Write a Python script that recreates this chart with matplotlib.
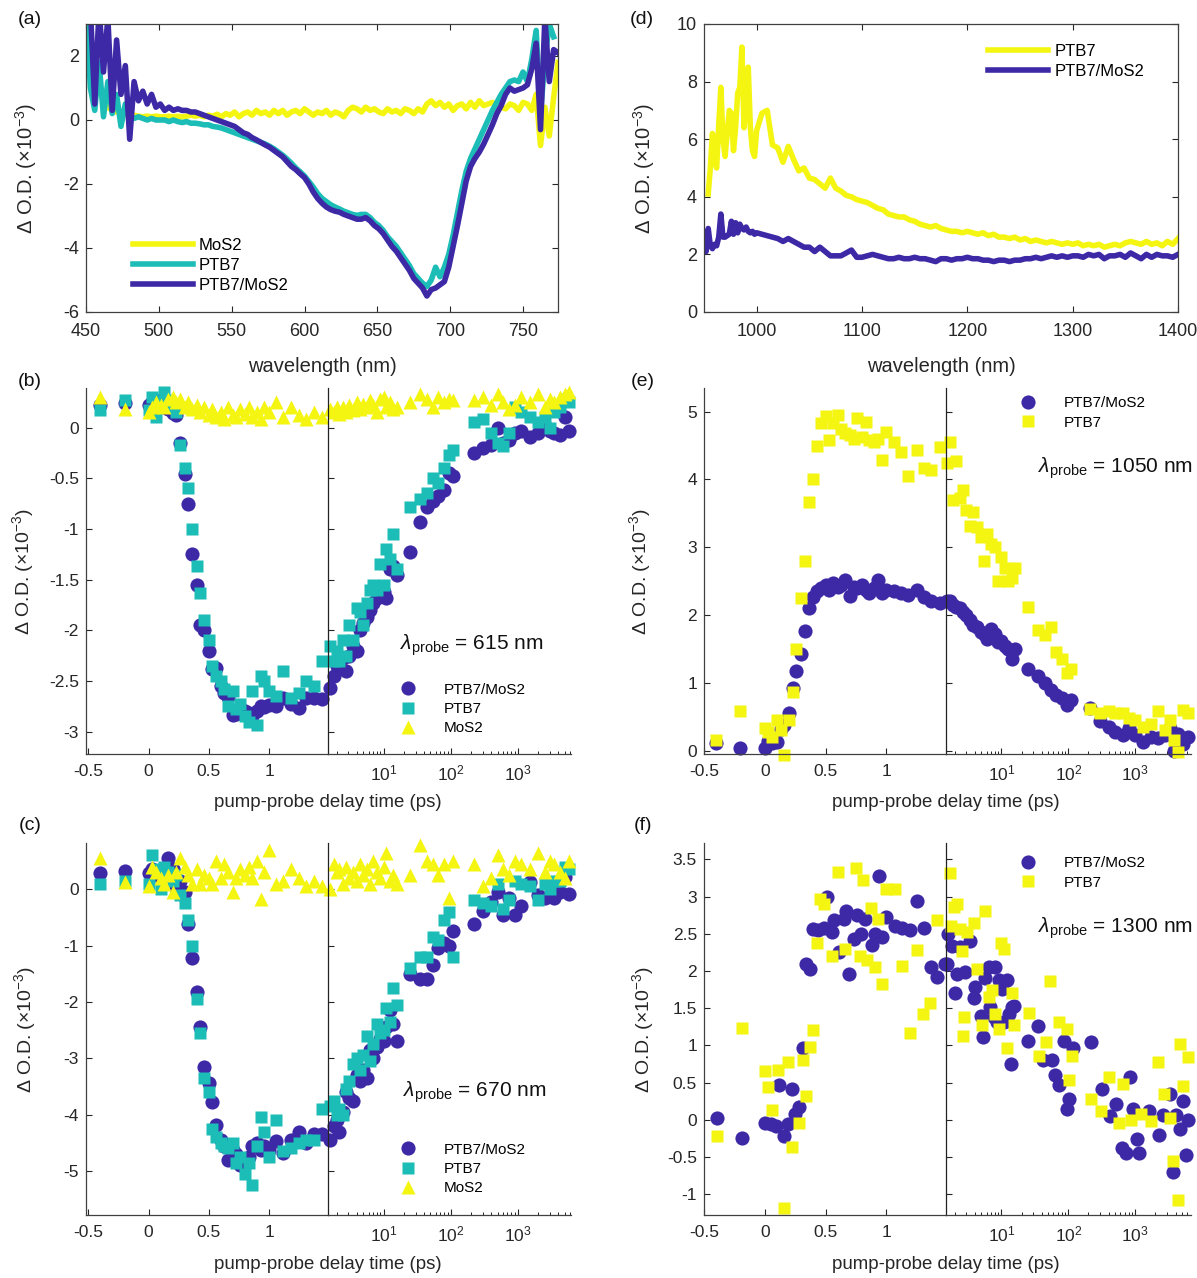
import numpy as np
import matplotlib
matplotlib.use("Agg")
import matplotlib.pyplot as plt
from matplotlib.ticker import LogLocator, NullFormatter

# ---- (a) visible spectra, wavelength grid every 3 nm ----
vis_wl = np.arange(450, 775, 3)
vis_mos2 = [3.5, 2.2, 1.5, 1.0, 0.6, 0.4, 0.3, 0.25, 0.2, 0.2,
            0.15, 0.15, 0.12, 0.1, 0.12, 0.1, 0.12, 0.1, 0.1, 0.12,
            0.1, 0.12, 0.1, 0.12, 0.15, 0.12, 0.15, 0.1, 0.15, 0.12,
            0.18, 0.1, 0.2, 0.15, 0.25, 0.1, 0.2, 0.25, 0.15, 0.3,
            0.2, 0.25, 0.15, 0.3, 0.2, 0.3, 0.15, 0.25, 0.3, 0.2,
            0.35, 0.25, 0.15, 0.25, 0.2, 0.3, 0.15, 0.25, 0.2, 0.1,
            0.3, 0.4, 0.35, 0.25, 0.4, 0.3, 0.35, 0.25, 0.2, 0.35,
            0.25, 0.3, 0.2, 0.35, 0.3, 0.2, 0.35, 0.25, 0.5, 0.6,
            0.45, 0.55, 0.4, 0.5, 0.3, 0.45, 0.5, 0.35, 0.55, 0.4,
            0.6, 0.45, 0.5, 0.55, 0.45, 0.4, 0.35, 0.5, 0.45, 0.3,
            0.55, 0.5, 0.3, 0.8, -0.8, 0.4, -0.5, 0.7, 1.8]
vis_ptb7 = [3.5, 1.0, 0.3, 1.8, 0.1, 1.2, 0.2, 0.8, -0.2, 0.5,
            0.1, 0.05, 0.1, 0.05, 0.0, 0.05, 0.0, 0.0, 0.0, -0.05,
            0.0, -0.05, -0.08, -0.05, -0.1, -0.1, -0.12, -0.15, -0.15, -0.2,
            -0.22, -0.25, -0.3, -0.35, -0.4, -0.45, -0.5, -0.55, -0.6, -0.65,
            -0.7, -0.75, -0.82, -0.9, -1.0, -1.1, -1.22, -1.35, -1.5, -1.62,
            -1.75, -1.92, -2.1, -2.3, -2.45, -2.55, -2.65, -2.72, -2.78, -2.85,
            -2.9, -2.95, -2.98, -2.95, -2.95, -3.05, -3.2, -3.3, -3.45, -3.65,
            -3.8, -3.95, -4.15, -4.35, -4.55, -4.8, -4.95, -5.1, -5.2, -5.0,
            -4.6, -4.9, -4.6, -4.2, -3.6, -2.9, -2.2, -1.6, -1.2, -0.9,
            -0.6, -0.3, 0.0, 0.3, 0.55, 0.8, 1.0, 1.2, 1.25, 1.2,
            1.5, 1.2, 1.9, 2.8, 0.2, 1.9, 3.0, 2.6, np.nan]
vis_mix = [np.nan, 3.5, 0.5, 3.5, 1.5, 3.2, 0.3, 2.5, 0.8, 1.7,
           -0.6, 1.2, 0.6, 0.9, 0.5, 0.8, 0.4, 0.5, 0.3, 0.4,
           0.3, 0.35, 0.3, 0.3, 0.25, 0.25, 0.2, 0.15, 0.1, 0.05,
           0.0, -0.05, -0.1, -0.15, -0.2, -0.3, -0.4, -0.45, -0.55, -0.62,
           -0.7, -0.78, -0.85, -0.95, -1.05, -1.15, -1.3, -1.45, -1.55, -1.68,
           -1.8, -2.0, -2.25, -2.45, -2.6, -2.72, -2.8, -2.85, -2.88, -2.95,
           -3.0, -3.05, -3.1, -3.1, -3.05, -3.15, -3.3, -3.4, -3.55, -3.75,
           -3.95, -4.1, -4.3, -4.5, -4.7, -4.95, -5.1, -5.25, -5.5, -5.3,
           -5.25, -5.15, -5.05, -4.6, -3.95, -3.3, -2.6, -1.9, -1.45, -1.2,
           -1.0, -0.75, -0.45, -0.15, 0.2, 0.45, 0.8, 1.0, 0.9, 0.95,
           1.0, 1.1, 1.6, 2.4, -0.3, 3.2, 1.2, 2.2, 2.1]

# ---- (d) near-IR spectra ----
nir_wl = np.concatenate([np.arange(950, 1001, 2), np.arange(1005, 1401, 5)])
nir_ptb7 = [np.nan, np.nan, 4.1, 5.0, 6.2, 5.3, 5.0, 6.5, 7.8, 6.0,
            5.4, 6.2, 7.0, 6.9, 5.6, 6.4, 7.6, 7.8, 9.2, 6.4,
            7.2, 8.5, 6.4, 5.6, 5.4, 6.3,
            6.9, 7.0, 5.8, 5.7, 5.2, 5.75, 5.3, 4.9, 5.0, 4.65,
            4.6, 4.45, 4.3, 4.65, 4.3, 4.2, 4.05, 4.0, 3.9, 3.85,
            3.8, 3.7, 3.6, 3.55, 3.4, 3.35, 3.3, 3.3, 3.2, 3.15,
            3.05, 3.0, 2.95, 3.0, 2.9, 2.85, 2.8, 2.8, 2.75, 2.8,
            2.75, 2.7, 2.75, 2.65, 2.7, 2.6, 2.6, 2.55, 2.6, 2.5,
            2.55, 2.45, 2.5, 2.45, 2.4, 2.45, 2.4, 2.35, 2.4, 2.35,
            2.4, 2.3, 2.35, 2.3, 2.35, 2.25, 2.3, 2.35, 2.3, 2.4,
            2.45, 2.4, 2.35, 2.45, 2.35, 2.4, 2.3, 2.45, 2.35, 2.55]
nir_mix = [2.3, 2.1, 2.9, 2.3, 2.2, 2.35, 2.3, 2.6, 3.4, 2.6,
           2.6, 2.65, 2.7, 3.15, 2.7, 3.1, 2.75, 3.05, 2.9, 2.85,
           2.95, 2.8, 2.75, 2.8, 2.7, 2.75,
           2.7, 2.65, 2.6, 2.55, 2.45, 2.55, 2.45, 2.35, 2.25, 2.25,
           2.1, 2.25, 2.1, 1.95, 1.95, 1.95, 2.05, 2.15, 1.9, 1.9,
           1.95, 2.0, 1.95, 1.9, 1.85, 1.85, 1.9, 1.85, 1.85, 1.9,
           1.85, 1.85, 1.8, 1.75, 1.85, 1.85, 1.8, 1.85, 1.85, 1.9,
           1.85, 1.85, 1.8, 1.8, 1.75, 1.8, 1.8, 1.75, 1.8, 1.8,
           1.85, 1.85, 1.9, 1.85, 1.9, 1.95, 1.9, 1.95, 1.9, 1.95,
           1.95, 1.9, 2.0, 1.95, 2.0, 1.85, 1.95, 1.95, 2.0, 1.9,
           2.05, 1.95, 1.85, 2.0, 1.9, 2.0, 1.95, 1.95, 1.9, 2.0]

# ---- delay grids (ps) ----
delay_lin = [-0.4, -0.2, 0.0, 0.03, 0.06, 0.1, 0.13, 0.16, 0.2, 0.23,
             0.26, 0.3, 0.33, 0.36, 0.4, 0.43, 0.46, 0.5, 0.53, 0.56,
             0.6, 0.63, 0.66, 0.7, 0.73, 0.76, 0.8, 0.83, 0.86, 0.9,
             0.93, 0.96, 1.0, 1.06, 1.12, 1.18, 1.25, 1.31, 1.37, 1.44]
delay_vis_log = [1.6, 1.8, 2.0, 2.2, 2.5, 2.8, 3.1, 3.5, 4, 4.5,
                 5, 5.6, 6.3, 7, 8, 9, 10, 11, 12.5, 14,
                 16, 25, 35, 45, 55, 65, 80, 95, 110, 220,
                 300, 400, 500, 600, 750, 900, 1100, 1500, 2000, 2500,
                 3000, 3500, 4200, 5000, 5800]
delay_nir_log = [1.55, 1.7, 1.9, 2.1, 2.4, 2.7, 3.0, 3.4, 3.8, 4.3,
                 4.9, 5.5, 6.2, 7.0, 7.9, 8.9, 10, 11.2, 12.6, 14.2,
                 16, 25, 35, 45, 55, 65, 80, 95, 110, 210,
                 300, 400, 500, 650, 800, 1000, 1300, 1700, 2200, 2800,
                 3300, 3800, 4400, 5200, 6100]

# ---- (b) 615 nm ----
b_mix = [0.22, 0.24, 0.22, 0.25, 0.22, 0.27, 0.2, 0.18, 0.14, 0.12,
         -0.15, -0.46, -0.75, -1.25, -1.55, -1.95, -2.0, -2.2, -2.38, -2.37,
         -2.55, -2.62, -2.66, -2.84, -2.83, -2.77, -2.8, -2.82, -2.85, -2.8,
         -2.75, -2.76, -2.74, -2.75, -2.67, -2.73, -2.77, -2.67, -2.67, -2.68,
         -2.57, -2.45, -2.35, -2.3, -2.27, -2.4, -2.25, -2.15, -2.2, -2.0,
         -1.93, -1.87, -1.8, -1.73, -1.68, -1.65, -1.62, -1.68, -1.4, -1.37,
         -1.45, -1.23, -0.93, -0.78, -0.72, -0.68, -0.62, -0.45, -0.48, -0.25,
         -0.2, -0.17, 0.0, -0.15, -0.12, -0.05, -0.03, -0.09, -0.05, 0.02,
         -0.03, -0.05, -0.07, 0.1, -0.03]
b_ptb7 = [0.17, 0.27, 0.17, 0.3, 0.1, 0.25, 0.35, 0.27, 0.2, 0.15,
          -0.17, -0.4, -0.6, -1.0, -1.37, -1.63, -1.9, -2.1, -2.35, -2.45,
          -2.5, -2.58, -2.75, -2.6, -2.78, -2.73, -2.85, -2.9, -2.6, -2.93,
          -2.45, -2.5, -2.6, -2.65, -2.4, -2.67, -2.62, -2.5, -2.55, -2.3,
          -2.15, -2.3, -2.2, -2.3, -2.1, -2.25, -1.95, -2.1, -1.78, -1.82,
          -1.95, -1.73, -1.6, -1.55, -1.6, -1.35, -1.55, -1.2, -1.3, -1.05,
          -1.4, -0.78, -0.7, -0.65, -0.5, -0.55, -0.4, -0.27, -0.22, 0.05,
          0.08, -0.05, -0.15, -0.18, -0.05, 0.2, 0.15, 0.1, 0.05, 0.1,
          0.0, 0.15, 0.2, 0.28, 0.25]
b_mos2 = [0.3, 0.18, 0.15, 0.2, 0.25, 0.22, 0.2, 0.28, 0.3, 0.25,
          0.28, 0.2, 0.25, 0.18, 0.22, 0.15, 0.2, 0.12, 0.18, 0.1,
          0.15, 0.08, 0.2, 0.12, 0.1, 0.18, 0.13, 0.2, 0.1, 0.15,
          0.08, 0.2, 0.15, 0.25, 0.1, 0.2, 0.12, 0.08, 0.15, 0.1,
          0.18, 0.15, 0.2, 0.13, 0.2, 0.15, 0.22, 0.17, 0.25, 0.18,
          0.23, 0.2, 0.27, 0.22, 0.15, 0.28, 0.3, 0.2, 0.25, 0.18,
          0.2, 0.25, 0.33, 0.28, 0.2, 0.3, 0.25, 0.28, 0.27, 0.27,
          0.3, 0.22, 0.33, 0.25, 0.18, 0.22, 0.3, 0.25, 0.33, 0.2,
          0.28, 0.25, 0.3, 0.33, 0.35]

# ---- (c) 670 nm ----
c_mix = [0.28, 0.32, 0.28, 0.35, 0.3, 0.2, 0.25, 0.55, 0.35, 0.02,
         0.15, -0.05, -0.62, -1.22, -1.82, -2.45, -3.15, -3.43, -3.78, -4.18,
         -4.45, -4.55, -4.8, -4.62, -4.7, -4.9, -4.85, -4.75, -4.55, -4.5,
         -4.62, -4.55, -4.62, -4.47, -4.68, -4.45, -4.3, -4.5, -4.35, -4.35,
         -4.45, -4.2, -4.1, -4.3, -3.95, -3.6, -3.7, -3.75, -3.3, -3.4,
         -3.2, -3.35, -2.85, -3.0, -2.8, -2.65, -2.7, -2.45, -2.15, -2.4,
         -2.7, -1.5, -1.6, -1.6, -1.35, -1.05, -0.95, -1.0, -0.75, -0.62,
         -0.38, -0.22, -0.05, -0.45, -0.15, -0.45, -0.3, 0.12, -0.1, -0.15,
         -0.12, -0.15, -0.05, 0.22, -0.08]
c_ptb7 = [0.1, 0.15, 0.1, 0.6, 0.35, 0.0, 0.4, 0.3, 0.15, 0.25,
          -0.1, -0.25, -0.55, -1.0, -1.95, -2.55, -3.35, -3.6, -4.25, -4.4,
          -4.5, -4.55, -4.6, -4.5, -4.85, -4.75, -5.05, -4.85, -5.25, -4.55,
          -4.05, -4.3, -4.75, -4.1, -4.65, -4.6, -4.5, -4.45, -4.45, -3.9,
          -3.85, -3.75, -4.0, -3.9, -4.0, -3.55, -3.4, -3.1, -3.0, -3.2,
          -2.95, -2.6, -3.05, -2.75, -2.4, -2.55, -2.5, -2.1, -2.35, -1.75,
          -2.05, -1.4, -1.2, -1.2, -0.85, -0.9, -0.55, -0.4, -1.2, -0.2,
          -0.25, -0.3, 0.1, -0.35, -0.2, 0.15, 0.1, 0.05, -0.2, 0.1,
          0.0, 0.15, 0.15, 0.4, 0.35]
c_mos2 = [0.55, 0.12, 0.05, 0.4, 0.3, 0.2, 0.1, 0.25, -0.05, 0.3,
          0.55, 0.4, 0.25, 0.1, 0.35, 0.1, 0.25, 0.2, 0.1, 0.5,
          0.2, 0.45, 0.3, -0.05, 0.2, 0.35, 0.25, 0.4, 0.2, 0.5,
          -0.17, 0.3, 0.7, 0.1, 0.15, 0.35, 0.2, 0.05, 0.15, 0.05,
          0.0, 0.45, 0.3, 0.35, 0.1, 0.4, 0.2, 0.3, 0.15, 0.45,
          0.25, 0.35, 0.1, 0.5, 0.3, 0.2, 0.4, 0.65, 0.15, 0.25,
          0.1, 0.25, 0.78, 0.5, 0.45, 0.25, 0.45, -0.15, 0.5, 0.45,
          0.05, 0.2, 0.6, 0.35, 0.25, 0.5, 0.45, 0.35, 0.65, 0.3,
          0.5, 0.45, 0.3, 0.2, 0.5]

# ---- (e) 1050 nm ----
e_mix = [0.11, 0.04, 0.04, 0.14, 0.11, 0.13, 0.32, 0.38, 0.56, 0.92,
         1.18, 1.43, 1.77, 2.1, 2.27, 2.35, 2.4, 2.45, 2.37, 2.48,
         2.42, 2.45, 2.52, 2.28, 2.42, 2.4, 2.45, 2.37, 2.32, 2.4,
         2.52, 2.32, 2.37, 2.35, 2.32, 2.3, 2.37, 2.27, 2.2, 2.18,
         2.2, 2.2, 2.15, 2.12, 2.1, 2.05, 2.0, 1.93, 1.85, 1.82,
         1.75, 1.72, 1.65, 1.8, 1.72, 1.6, 1.62, 1.55, 1.5, 1.35,
         1.5, 1.2, 1.1, 1.0, 0.9, 0.82, 0.78, 0.68, 0.75, 0.63,
         0.43, 0.35, 0.28, 0.23, 0.33, 0.23, 0.13, 0.2, 0.18, 0.23,
         0.33, 0.0, 0.25, 0.1, 0.2]
e_ptb7 = [0.16, 0.59, 0.33, 0.28, 0.2, 0.45, 0.3, -0.06, 0.45, 0.86,
          1.5, 2.25, 2.8, 3.67, 4.0, 4.5, 4.83, 4.93, 4.58, 4.83,
          4.95, 4.75, 4.68, 4.66, 4.6, 4.9, 4.62, 4.85, 4.58, 4.56,
          4.6, 4.29, 4.7, 4.56, 4.4, 4.05, 4.44, 4.17, 4.14, 4.48,
          4.25, 4.55, 3.7, 4.27, 3.72, 3.85, 3.55, 3.32, 3.52, 3.3,
          3.15, 2.8, 3.2, 3.05, 3.0, 2.5, 2.85, 2.7, 2.5, 2.55,
          2.7, 2.12, 1.78, 1.7, 1.82, 1.45, 1.35, 1.15, 1.2, 0.62,
          0.55, 0.58, 0.55, 0.55, 0.48, 0.45, 0.35, 0.4, 0.58, 0.3,
          0.45, 0.15, -0.02, 0.6, 0.55]

# ---- (f) 1300 nm (own delay points) ----
f_t_mix = [-0.39, -0.19, 0.0, 0.05, 0.09, 0.12, 0.16, 0.19, 0.22, 0.25,
           0.28, 0.31, 0.34, 0.37, 0.4, 0.44, 0.49, 0.51, 0.55, 0.57,
           0.61, 0.65, 0.67, 0.69, 0.73, 0.76, 0.79, 0.82, 0.88, 0.91,
           0.94, 0.96, 1.0, 1.07, 1.13, 1.19, 1.25, 1.31, 1.37, 1.42, 1.48,
           1.53, 1.62, 1.82, 2.0, 2.16, 2.42, 2.88, 3.4, 3.9, 4.1,
           5.0, 5.4, 5.75, 6.45, 6.8, 7.7, 8.1, 8.6, 9.1, 10.2,
           10.8, 12.2, 12.9, 14, 14.5, 15.3, 25, 35.5, 42, 57,
           64, 72, 86, 97, 102, 119, 216, 316, 417, 510,
           630, 720, 830, 910, 1050, 1150, 1630, 2300, 2600, 3260,
           3650, 4100, 4700, 5200, 5700, 6100]
f_mix = [0.02, -0.25, -0.04, -0.06, -0.08, 0.47, -0.22, -0.06, 0.42, 0.08,
         0.17, 0.97, 2.1, 2.03, 2.57, 2.55, 2.58, 2.99, 2.53, 2.68,
         2.25, 2.7, 2.8, 1.96, 2.43, 2.75, 2.5, 2.7, 2.35, 2.5,
         3.27, 2.45, 2.73, 2.6, 2.58, 2.55, 2.94, 2.58, 2.05, 1.92, 2.1,
         2.1, 2.5, 2.34, 1.71, 1.96, 2.32, 1.98, 2.4, 1.64, 1.78,
         1.4, 1.11, 1.9, 2.05, 1.52, 1.38, 2.05, 1.31, 1.88, 1.76,
         1.31, 1.88, 1.42, 0.75, 1.52, 1.53, 1.06, 1.26, 0.8, 0.8,
         0.6, 0.47, 1.06, 0.14, 0.28, 0.97, 1.05, 0.42, 0.05, 0.21,
         -0.38, -0.45, 0.57, 0.14, -0.26, -0.45, 0.12, -0.2, 0.07, 0.34,
         -0.7, 0.07, -0.12, 0.25, -0.47, 0.0]
f_t_ptb7 = [-0.39, -0.19, 0.0, 0.03, 0.06, 0.11, 0.16, 0.19, 0.22, 0.28,
            0.31, 0.34, 0.37, 0.4, 0.43, 0.45, 0.49, 0.55, 0.6, 0.66,
            0.75, 0.78, 0.81, 0.84, 0.87, 0.91, 0.93, 0.96, 1.0, 1.07,
            1.13, 1.19, 1.25, 1.3, 1.36, 1.42,
            1.7, 1.8, 1.93, 2.15, 2.4, 2.6, 2.65, 2.75, 3.05, 3.95,
            4.3, 5.1, 5.75, 6.45, 7.2, 8.1, 9.1, 10, 10.8, 12.2,
            14.5, 15.3, 25.7, 36, 46, 54, 72, 97, 102, 115,
            216, 305, 410, 580, 650, 870, 1220, 1720, 2160, 2720,
            3260, 3650, 4360, 4700, 5200, 6100]
f_ptb7 = [-0.22, 1.23, 0.65, 0.44, 0.13, 0.67, -1.18, 0.78, -0.36, -0.05,
          0.81, 0.32, 0.98, 1.21, 2.38, 2.97, 2.9, 2.2, 3.33, 2.3,
          3.38, 2.2, 3.22, 2.15, 2.85, 2.05, 2.7, 1.82, 3.1, 3.1,
          2.07, 1.16, 2.28, 1.42, 1.57, 2.68,
          3.32, 2.6, 2.86, 2.9, 2.56, 2.27, 1.13, 1.38, 2.52, 2.65,
          2.03, 1.27, 2.8, 1.65, 1.74, 1.42, 1.22, 2.38, 2.29, 0.97,
          1.7, 1.27, 1.43, 0.86, 1.04, 1.87, 1.31, 1.22, 0.53, 0.86,
          0.28, 0.12, 0.57, -0.05, 0.48, 0.0, 0.08, -0.01, 0.77, 0.35,
          0.03, -0.55, -1.08, 1.02, 0.46, 0.85]

# ---- style ----
YEL = "#F5F512"
TEAL = "#1BBDB6"
BLUE = "#3D28A6"
SPINE = "#404040"
TXT = "#262626"
SPLIT = 1.49

plt.rcParams["font.family"] = ["Liberation Sans", "DejaVu Sans"]
plt.rcParams["mathtext.fontset"] = "custom"
plt.rcParams["mathtext.rm"] = "Liberation Sans"
plt.rcParams["mathtext.it"] = "Liberation Sans:italic"
plt.rcParams["mathtext.default"] = "regular"
plt.rcParams["axes.unicode_minus"] = False
plt.rcParams["axes.edgecolor"] = SPINE
plt.rcParams["axes.linewidth"] = 0.9

W, H = 1197, 1278
fig = plt.figure(figsize=(W / 100, H / 100), dpi=100)


def rect(x0, y0, x1, y1):
    # pixel box (top-left origin) -> figure fraction
    return [x0 / W, 1 - y1 / H, (x1 - x0) / W, (y1 - y0) / H]


YLAB = "Δ O.D. (×10$^{-3}$)"


def spectrum_axes(box, xlim, ylim, xticks, yticks):
    ax = fig.add_axes(rect(*box))
    ax.set_xlim(xlim)
    ax.set_ylim(ylim)
    ax.set_xticks(xticks)
    ax.set_yticks(yticks)
    ax.tick_params(direction="in", length=4, top=True, right=True,
                   labelsize=13, colors=TXT)
    ax.tick_params(axis="x", pad=8)
    ax.tick_params(axis="y", pad=5)
    ax.set_xlabel("wavelength (nm)", fontsize=14.5, color=TXT)
    ax.set_ylabel(YLAB, fontsize=14.5, color=TXT)
    ax.xaxis.set_label_coords(0.5, -0.155)
    return ax


def split_axes(box, xsplit, lin_lim, log_lim, ylim, yticks):
    x0, y0, x1, y1 = box
    a1 = fig.add_axes(rect(x0, y0, xsplit, y1))
    a2 = fig.add_axes(rect(xsplit, y0, x1, y1))
    a2.set_xscale("log")
    for ax in (a1, a2):
        ax.spines["top"].set_visible(False)
        ax.spines["right"].set_visible(False)
        ax.set_ylim(ylim)
        ax.set_yticks(yticks)
        ax.tick_params(direction="in", length=4, labelsize=12.5, colors=TXT)
        ax.tick_params(axis="x", pad=7)
        ax.tick_params(axis="y", pad=5)
        ax.tick_params(which="minor", direction="in", length=2.5)
        ax.patch.set_alpha(0)
    a2.spines["left"].set_color("#222222")
    a1.set_xlim(lin_lim)
    a2.set_xlim(log_lim)
    a1.set_xticks([-0.5, 0, 0.5, 1])
    a1.set_xticklabels(["-0.5", "0", "0.5", "1"])
    a1.set_yticklabels(["%g" % v for v in yticks])
    a2.tick_params(labelleft=False)
    a2.set_xticks([10, 100, 1000])
    a2.xaxis.set_minor_locator(LogLocator(base=10, subs=np.arange(2, 10), numticks=30))
    a2.xaxis.set_minor_formatter(NullFormatter())
    a1.set_xlabel("pump-probe delay time (ps)", fontsize=13.4, color=TXT)
    a1.xaxis.set_label_coords(1.0, -0.11)
    a1.set_ylabel(YLAB, fontsize=14, color=TXT)
    return a1, a2


def draw(axs, t, y, **kw):
    t = np.asarray(t, dtype=float)
    y = np.asarray(y, dtype=float)
    lin = t < SPLIT
    axs[0].plot(t[lin], y[lin], ls="none", mec="none", clip_on=False, **kw)
    axs[1].plot(t[~lin], y[~lin], ls="none", mec="none", clip_on=False, **kw)


CIRC = dict(marker="o", ms=10.2, color=BLUE)
LW = 4.0

# (a)
ax_a = spectrum_axes((86, 24, 558, 312), (450, 774), (-6, 3),
                     range(450, 751, 50), range(-6, 3, 2))
ax_a.plot(vis_wl, vis_mos2, color=YEL, lw=LW, label="MoS2")
ax_a.plot(vis_wl, vis_ptb7, color=TEAL, lw=LW, label="PTB7")
ax_a.plot(vis_wl, vis_mix, color=BLUE, lw=LW, label="PTB7/MoS2")
ax_a.yaxis.set_label_coords(-0.10, 0.5)
ax_a.legend(loc="center left", bbox_to_anchor=(125 / W, 1 - 265 / H),
            bbox_transform=fig.transFigure, frameon=False, fontsize=12,
            handlelength=3.6, handletextpad=0.3, labelspacing=0.3, borderpad=0)

# (d)
ax_d = spectrum_axes((704, 24, 1178, 312), (950, 1400), (0, 10),
                     range(1000, 1401, 100), range(0, 11, 2))
ax_d.plot(nir_wl, nir_ptb7, color=YEL, lw=LW, label="PTB7")
ax_d.plot(nir_wl, nir_mix, color=BLUE, lw=LW, label="PTB7/MoS2")
ax_d.yaxis.set_label_coords(-0.10, 0.5)
ax_d.legend(loc="center left", bbox_to_anchor=(980 / W, 1 - 61 / H),
            bbox_transform=fig.transFigure, frameon=False, fontsize=12,
            handlelength=3.6, handletextpad=0.4, labelspacing=0.3, borderpad=0)

# (b)
axs_b = split_axes((86, 388, 571, 754), 328, (-0.52, SPLIT), (SPLIT, 6200),
                   (-3.22, 0.39), np.arange(-3, 0.01, 0.5))
t_vis = delay_lin + delay_vis_log
draw(axs_b, t_vis, b_mix, label="PTB7/MoS2", **CIRC)
draw(axs_b, t_vis, b_ptb7, marker="s", ms=8.5, color=TEAL, label="PTB7")
draw(axs_b, t_vis, b_mos2, marker="^", ms=10.5, color=YEL, label="MoS2")
axs_b[0].yaxis.set_label_coords(-0.205, 0.5)

# (c)
axs_c = split_axes((86, 843, 571, 1215), 328, (-0.52, SPLIT), (SPLIT, 6200),
                   (-5.78, 0.82), np.arange(-5, 0.01, 1))
draw(axs_c, t_vis, c_mix, label="PTB7/MoS2", **CIRC)
draw(axs_c, t_vis, c_ptb7, marker="s", ms=8.5, color=TEAL, label="PTB7")
draw(axs_c, t_vis, c_mos2, marker="^", ms=10.5, color=YEL, label="MoS2")
axs_c[0].yaxis.set_label_coords(-0.2, 0.5)

# (e)
axs_e = split_axes((704, 388, 1191, 754), 946, (-0.48, SPLIT), (SPLIT, 6800),
                   (-0.05, 5.35), np.arange(0, 5.01, 1))
t_nir = delay_lin + delay_nir_log
draw(axs_e, t_nir, e_mix, label="PTB7/MoS2", **CIRC)
draw(axs_e, t_nir, e_ptb7, marker="s", ms=8.5, color=YEL, label="PTB7")
axs_e[0].yaxis.set_label_coords(-0.21, 0.5)

# (f)
axs_f = split_axes((704, 843, 1191, 1215), 946, (-0.48, SPLIT), (SPLIT, 6800),
                   (-1.28, 3.72), np.arange(-1, 3.51, 0.5))
draw(axs_f, f_t_mix, f_mix, label="PTB7/MoS2", **CIRC)
draw(axs_f, f_t_ptb7, f_ptb7, marker="s", ms=8.5, color=YEL, label="PTB7")
axs_f[0].yaxis.set_label_coords(-0.2, 0.5)

# legends of the delay traces
for axs, px, py in ((axs_b, 385, 709), (axs_c, 385, 1169),
                    (axs_e, 1005, 413), (axs_f, 1005, 873)):
    axs[0].legend(loc="center left", bbox_to_anchor=(px / W, 1 - py / H),
                  bbox_transform=fig.transFigure, frameon=False, fontsize=11,
                  handlelength=2, handletextpad=1.35, labelspacing=0.35,
                  borderpad=0, numpoints=1)

# probe wavelength notes
for px, py, wl in ((400, 645, 615), (403, 1092, 670), (1038, 468, 1050), (1038, 928, 1300)):
    fig.text(px / W, 1 - py / H, r"$\mathit{\lambda}_{\mathrm{probe}}$ = %d nm" % wl,
             fontsize=15, va="center", ha="left", color="#111111")

# panel letters
for px, py, s in ((30, 20, "(a)"), (642, 20, "(d)"), (30, 381, "(b)"),
                  (643, 381, "(e)"), (30, 825, "(c)"), (643, 825, "(f)")):
    fig.text(px / W, 1 - py / H, s, fontsize=14, ha="center", va="center",
             color="#111111")

fig.savefig("out.png", dpi=100)
